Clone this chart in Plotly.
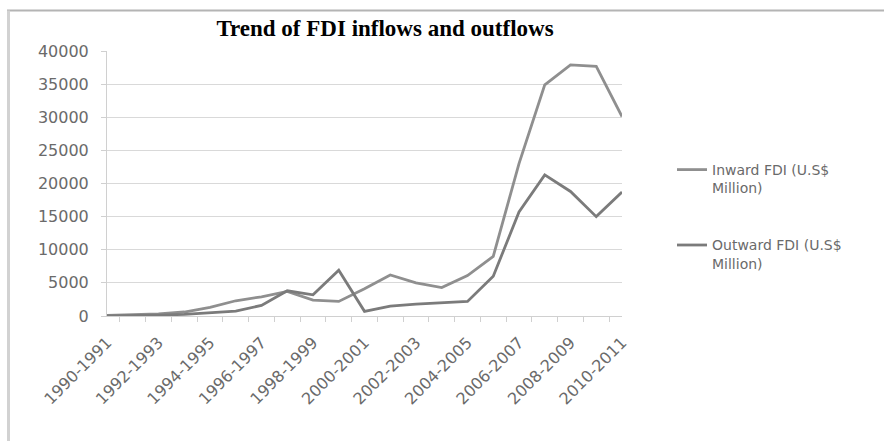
import plotly.graph_objects as go

# Financial years on the x axis
periods = [
    "1990-1991", "1991-1992", "1992-1993", "1993-1994", "1994-1995",
    "1995-1996", "1996-1997", "1997-1998", "1998-1999", "1999-2000",
    "2000-2001", "2001-2002", "2002-2003", "2003-2004", "2004-2005",
    "2005-2006", "2006-2007", "2007-2008", "2008-2009", "2009-2010",
    "2010-2011",
]

# FDI flows, U.S$ million
inward_fdi = [100, 150, 300, 600, 1300, 2300, 2900, 3700, 2400, 2200,
              4100, 6200, 5000, 4300, 6100, 9000, 23000, 34900, 37900,
              37700, 30100]
outward_fdi = [10, 30, 120, 250, 500, 750, 1600, 3800, 3200, 6900,
               700, 1500, 1800, 2000, 2200, 6000, 15700, 21300, 18800,
               15000, 18700]

series_names = ["Inward FDI (U.S$<br>Million)", "Outward FDI (U.S$<br>Million)"]
series_colors = ["#8f8f8f", "#7b7b7b"]

y_ticks = list(range(0, 40001, 5000))

W, H = 884, 441
tick_font = dict(family="DejaVu Sans", size=16, color="#6a6a6a")

fig = go.Figure()
for k, (name, vals, col) in enumerate(zip(series_names, [inward_fdi, outward_fdi], series_colors)):
    fig.add_trace(go.Scatter(
        x=periods, y=vals, name=name, mode="lines",
        line=dict(color=col, width=2.8), legendgroup=f"g{k}",
    ))

# every category gets a boundary tick, every other one a label
x_text = [p if i % 2 == 0 else "" for i, p in enumerate(periods)]

fig.update_layout(
    width=W, height=H,
    paper_bgcolor="white", plot_bgcolor="white",
    margin=dict(l=107, r=262, t=51, b=125),
    title=dict(
        text="<b>Trend of FDI inflows and outflows</b>",
        font=dict(family="Liberation Serif", size=23, color="#000000"),
        x=385 / W, xanchor="center", xref="container",
        y=1 - 28 / H, yanchor="middle", yref="container",
    ),
    xaxis=dict(
        type="category", categoryorder="array", categoryarray=periods,
        tickmode="array", tickvals=periods, ticktext=x_text,
        tickson="boundaries", ticks="outside", ticklen=5,
        tickcolor="#d0d0d0", tickwidth=1,
        showline=True, linecolor="#d0d0d0", linewidth=1,
        showgrid=False, tickangle=-45, tickfont=tick_font,
        ticklabelstandoff=10,
    ),
    yaxis=dict(
        range=[0, 40000], tickvals=y_ticks, ticktext=[str(v) for v in y_ticks],
        ticks="outside", ticklen=5, tickcolor="#d0d0d0", tickwidth=1,
        showline=True, linecolor="#d0d0d0", linewidth=1,
        showgrid=True, gridcolor="#d9d9d9", gridwidth=1,
        zeroline=False, tickfont=tick_font, ticklabelstandoff=9,
    ),
    legend=dict(
        x=672 / W, xref="container", xanchor="left",
        y=1 - 154 / H, yref="container", yanchor="top",
        font=dict(family="DejaVu Sans", size=14, color="#6a6a6a"),
        valign="top", traceorder="grouped", tracegroupgap=36, itemwidth=30,
        bgcolor="rgba(0,0,0,0)",
    ),
    shapes=[
        # chart frame edges
        dict(type="line", xref="paper", yref="paper",
             x0=(7 - 107) / (W - 107 - 262), x1=1.6,
             y0=1 + (51 - 10.5) / (H - 51 - 125), y1=1 + (51 - 10.5) / (H - 51 - 125),
             line=dict(color="#b4b4b4", width=2)),
        dict(type="line", xref="paper", yref="paper",
             x0=(8.5 - 107) / (W - 107 - 262), x1=(8.5 - 107) / (W - 107 - 262),
             y0=1 + (51 - 10.5) / (H - 51 - 125), y1=-1,
             line=dict(color="#d2d2d2", width=3)),
    ],
)

fig.write_html("out.html")
